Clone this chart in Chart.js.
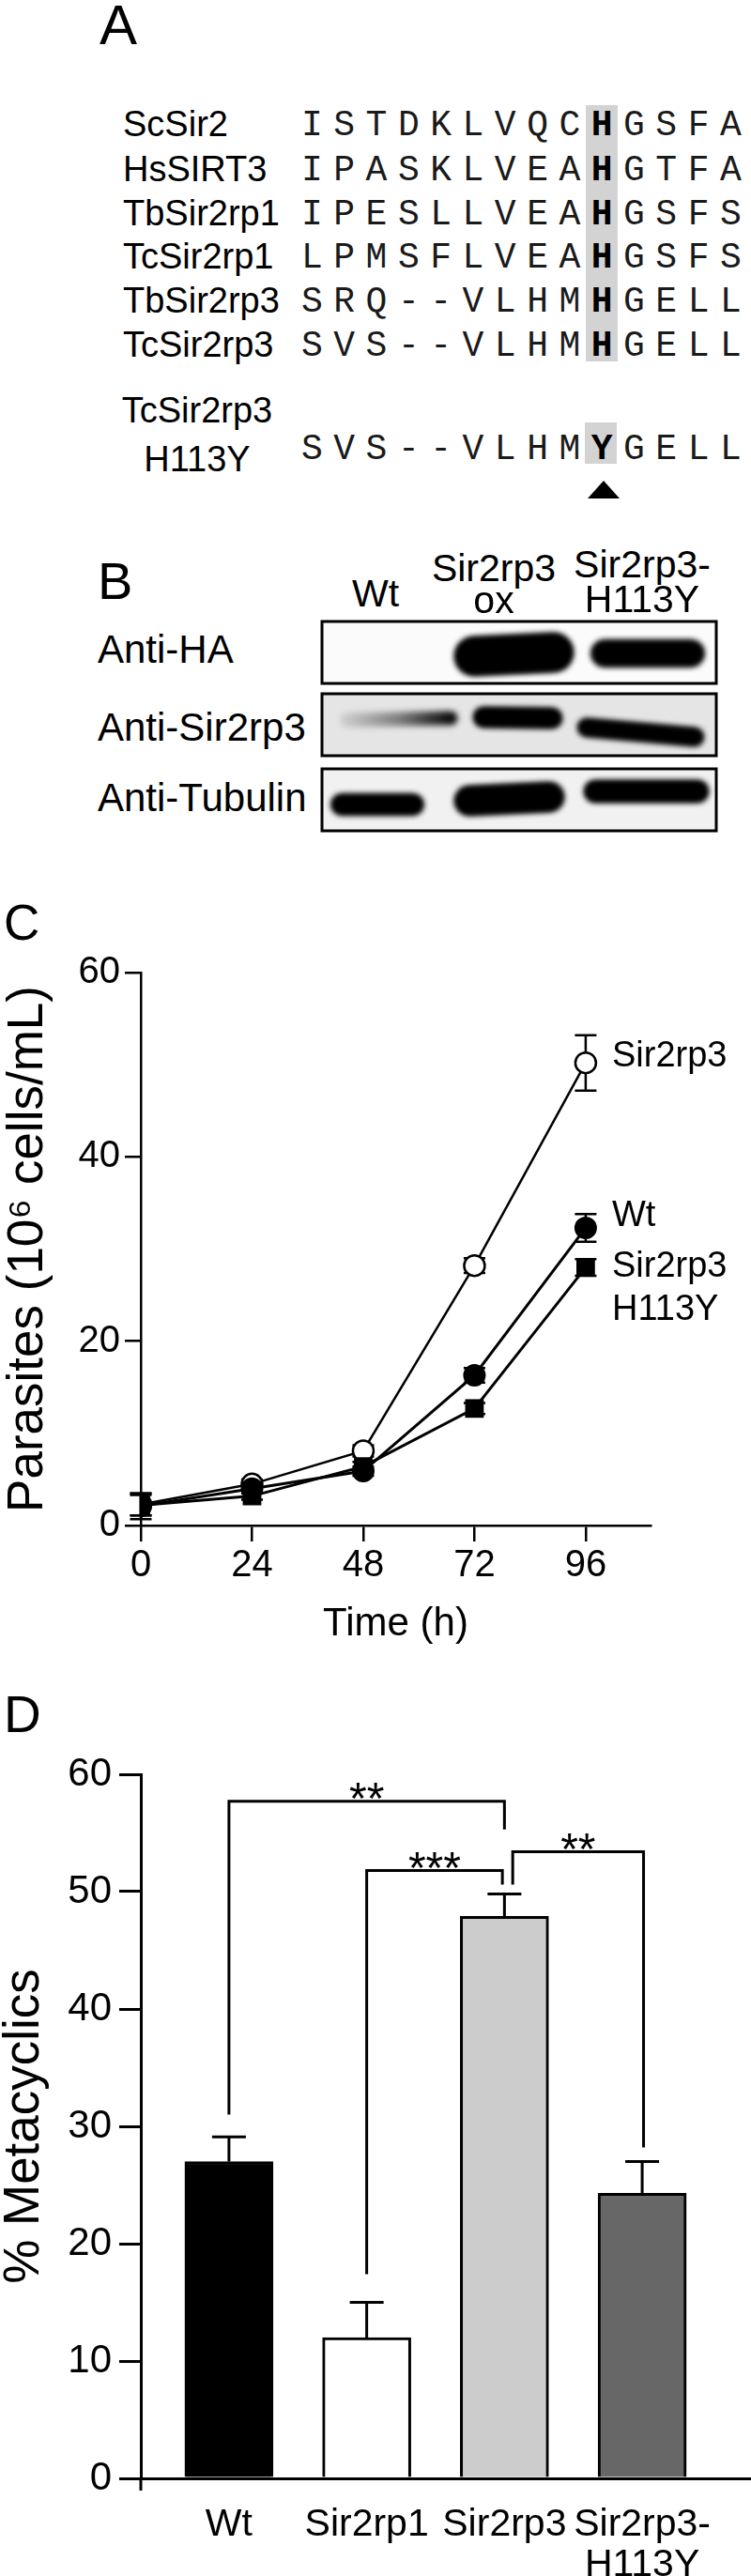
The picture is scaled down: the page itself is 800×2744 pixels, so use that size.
<!DOCTYPE html>
<html>
<head>
<meta charset="utf-8">
<script src="https://cdn.jsdelivr.net/npm/chart.js@4.4.1/dist/chart.umd.min.js"></script>
<style>
body{margin:0;background:#fff;}
#fig{position:relative;width:800px;height:2744px;overflow:hidden;font-family:'Liberation Sans',Arial,sans-serif;color:#000;}
.t{position:absolute;white-space:nowrap;}
.seq{position:absolute;white-space:pre;font-family:'Liberation Mono','Courier New',monospace;font-size:38px;line-height:38px;letter-spacing:11.5px;color:#1a1a1a;}
.seq b{font-weight:bold;color:#000;}
.hl{position:absolute;background:#d3d3d3;}
canvas{position:absolute;}
</style>
</head>
<body>
<div id="fig">
  <div class="hl" style="left:624px;top:112px;width:34px;height:273px;"></div>
  <div class="hl" style="left:623px;top:450px;width:34px;height:44px;"></div>
  <div style="position:absolute;left:626px;top:512px;width:0;height:0;border-left:17px solid transparent;border-right:17px solid transparent;border-bottom:19px solid #000;"></div>
  <canvas id="blot" width="426" height="230" style="left:340px;top:659px;"></canvas>
  <canvas id="growth" width="800" height="820" style="left:0;top:980px;"></canvas>
  <canvas id="meta" width="800" height="904" style="left:0;top:1840px;"></canvas>
</div>
<script>
// panel A: alignment
var alignNames = ["ScSir2", "HsSIRT3", "TbSir2rp1", "TcSir2rp1", "TbSir2rp3", "TcSir2rp3"];
var alignSeqs = ["ISTDKLVQCHGSFA", "IPASKLVEAHGTFA", "IPESLLVEAHGSFS", "LPMSFLVEAHGSFS", "SRQ--VLHMHGELL", "SVS--VLHMHGELL"];
var mutantName = ["TcSir2rp3", "H113Y"];
var mutantSeq = "SVS--VLHMYGELL";
var conservedPos = 9;

// panel B: western blot
var blotRows = ["Anti-HA", "Anti-Sir2rp3", "Anti-Tubulin"];
var blotLanes = [["Wt"], ["Sir2rp3", "ox"], ["Sir2rp3-", "H113Y"]];
var bandSignal = [[0, 1, 0.97], [0.55, 1, 0.97], [1, 1, 1]];

// panel C: growth curves
var hours = [0, 24, 48, 72, 96];
var growthSir2rp3 = [2.3, 4.5, 8.1, 28.2, 50.2];
var errSir2rp3 = [1.2, 0.5, 0.6, 0.8, 3.0];
var growthWt = [2.1, 4.0, 5.9, 16.3, 32.3];
var errWt = [1.4, 0.5, 0.5, 0.8, 1.5];
var growthH113Y = [2.2, 3.2, 6.4, 12.7, 28.0];
var errH113Y = [1.1, 0.4, 0.5, 0.6, 0.9];

// panel D: metacyclogenesis
var strains = ["Wt", "Sir2rp1", "Sir2rp3", ["Sir2rp3-", "H113Y"]];
var metacyclics = [27.0, 12.0, 47.9, 24.3];
var metaErr = [2.1, 3.0, 1.9, 2.7];
var barColors = ["#000000", "#ffffff", "#cccccc", "#676767"];
var brackets = [
  {from: 1, to: 3, yFrom: 31.0, yTop: 57.7, yTo: 55.3, text: "**"},
  {from: 2, to: 2.985, yFrom: 17.4, yTop: 51.8, yTo: 50.6, text: "***"},
  {from: 3.06, to: 4.01, yFrom: 50.6, yTop: 53.4, yTo: 28.2, text: "**"}
];

var fig = document.getElementById('fig');
function txt(s, x, yc, size, align, extra){
  var d = document.createElement('div');
  d.className = 't';
  d.textContent = s;
  d.style.fontSize = size + 'px';
  d.style.lineHeight = size + 'px';
  d.style.top = (yc - size / 2) + 'px';
  d.style.left = x + 'px';
  if (align == 'center') d.style.transform = 'translateX(-50%)';
  if (extra) d.style.cssText += extra;
  fig.appendChild(d);
}

// panel letters
txt("A", 106, 27, 60);
txt("B", 104, 619, 56);
txt("C", 4, 982, 53);
txt("D", 4, 1826, 55);

// alignment rows
var rowY = [132, 180, 227, 273, 320, 367];
alignNames.forEach(function(n, i){ txt(n, 131, rowY[i], 38); });
function seqRow(seq, yc){
  var d = document.createElement('div');
  d.className = 'seq';
  d.style.left = '321px';
  d.style.top = (yc - 16.6) + 'px';
  d.innerHTML = seq.slice(0, conservedPos) + '<b>' + seq[conservedPos] + '</b>' + seq.slice(conservedPos + 1);
  fig.appendChild(d);
}
alignSeqs.forEach(function(s, i){ seqRow(s, rowY[i]); });
txt(mutantName[0], 210, 437, 38, 'center');
txt(mutantName[1], 210, 489, 38, 'center');
seqRow(mutantSeq, 477);

// blot labels
var laneX = [400, 526, 684];
var laneY1 = [[632], [605, 639], [601, 638]];
blotLanes.forEach(function(l, i){
  l.forEach(function(s, k){ txt(s, laneX[i], laneY1[i][k], 41, 'center'); });
});
var rowLabelY = [692, 775, 850];
blotRows.forEach(function(r, i){ txt(r, 104, rowLabelY[i], 42); });

// growth curve labels
txt("Sir2rp3", 652, 1123, 38);
txt("Wt", 652, 1293, 38);
txt("Sir2rp3", 652, 1347, 38);
txt("H113Y", 652, 1393, 38);

// ---- blot drawing
(function(){
  var c = document.getElementById('blot').getContext('2d');
  var boxTop = [3, 80, 160];
  var boxBg = ['#fbfbfb', '#e5e5e5', '#f1f1f1'];
  // band strokes: [x0, y0, x1, y1, thickness] inside each box
  var bands = [
    [null, [165, 37, 250, 33, 40], [304, 34, 396, 34, 27]],
    [[30, 28, 140, 26, 15], [175, 25, 248, 26, 20], [285, 36, 400, 46, 18]],
    [[24, 38, 100, 38, 21], [160, 34, 245, 30, 30], [294, 24, 403, 24, 22]]
  ];
  for (var r = 0; r < 3; r++) {
    c.fillStyle = boxBg[r];
    c.fillRect(3, boxTop[r], 420, 66);
    c.save();
    c.beginPath(); c.rect(3, boxTop[r], 420, 66); c.clip();
    c.filter = 'blur(3px)';
    c.lineCap = 'round';
    for (var l = 0; l < 3; l++) {
      var b = bands[r][l];
      if (!b || !bandSignal[r][l]) continue;
      var s = bandSignal[r][l];
      if (s < 0.9) {
        var g = c.createLinearGradient(b[0], 0, b[2], 0);
        g.addColorStop(0, 'rgba(0,0,0,0.12)');
        g.addColorStop(0.5, 'rgba(0,0,0,0.45)');
        g.addColorStop(1, 'rgba(0,0,0,0.95)');
        c.strokeStyle = g;
      } else {
        c.strokeStyle = 'rgba(0,0,0,' + s + ')';
      }
      c.lineWidth = b[4];
      c.beginPath();
      c.moveTo(b[0], boxTop[r] + b[1]);
      c.lineTo(b[2], boxTop[r] + b[3]);
      c.stroke();
      if (s >= 0.9) c.stroke();
    }
    c.restore();
    c.lineWidth = 3;
    c.strokeStyle = '#000';
    c.strokeRect(3, boxTop[r], 420, 66);
  }
})();

Chart.defaults.font.family = "'Liberation Sans', Arial, sans-serif";
Chart.defaults.color = '#000';

// ---- panel C
var cErrBars = {
  id: 'cErrBars',
  beforeDatasetsDraw: function(chart){
    var ctx = chart.ctx, y = chart.scales.y;
    ctx.save();
    ctx.strokeStyle = '#000';
    ctx.lineWidth = 2.5;
    chart.data.datasets.forEach(function(ds, i){
      chart.getDatasetMeta(i).data.forEach(function(pt, j){
        var v = ds.data[j].y, e = ds.errors[j];
        var top = y.getPixelForValue(v + e), bot = y.getPixelForValue(v - e);
        ctx.beginPath();
        ctx.moveTo(pt.x, top); ctx.lineTo(pt.x, bot);
        ctx.moveTo(pt.x - 11.5, top); ctx.lineTo(pt.x + 11.5, top);
        ctx.moveTo(pt.x - 11.5, bot); ctx.lineTo(pt.x + 11.5, bot);
        ctx.stroke();
      });
    });
    ctx.restore();
  }
};
function pts(vals){ return hours.map(function(h, i){ return {x: h, y: vals[i]}; }); }

new Chart(document.getElementById('growth'), {
  type: 'line',
  data: {
    datasets: [
      {label: 'Sir2rp3 H113Y', data: pts(growthH113Y), errors: errH113Y, borderColor: '#000', borderWidth: 3,
       pointStyle: 'rect', pointRadius: 14, pointBackgroundColor: '#000', pointBorderColor: '#000', pointBorderWidth: 0},
      {label: 'Wt', data: pts(growthWt), errors: errWt, borderColor: '#000', borderWidth: 3,
       pointStyle: 'circle', pointRadius: 12, pointBackgroundColor: '#000', pointBorderColor: '#000', pointBorderWidth: 0},
      {label: 'Sir2rp3', data: pts(growthSir2rp3), errors: errSir2rp3, borderColor: '#000', borderWidth: 2.5,
       pointStyle: 'circle', pointRadius: 11, pointBackgroundColor: '#fff', pointBorderColor: '#000', pointBorderWidth: 2.5}
    ]
  },
  options: {
    responsive: false, animation: false, devicePixelRatio: 1,
    layout: {padding: {top: 56, right: 107, bottom: 0, left: 0}},
    plugins: {legend: {display: false}, tooltip: {enabled: false}},
    elements: {line: {tension: 0}},
    scales: {
      x: {
        type: 'linear', min: 0, max: 110,
        afterBuildTicks: function(s){ s.ticks = hours.map(function(h){ return {value: h}; }); },
        afterFit: function(s){ s.height = 175; },
        grid: {drawOnChartArea: false, tickLength: 17, color: '#000', lineWidth: 2.5},
        border: {color: '#000', width: 2.5},
        ticks: {font: {size: 40}, padding: 2, maxRotation: 0},
        title: {display: true, text: 'Time (h)', font: {size: 42, lineHeight: 1}, padding: {top: 0, bottom: 49}}
      },
      y: {
        min: 0, max: 60,
        ticks: {stepSize: 20, font: {size: 40}, padding: 5},
        afterFit: function(s){ s.width = 150; },
        grid: {drawOnChartArea: false, tickLength: 17, color: '#000', lineWidth: 2.5},
        border: {color: '#000', width: 2.5},
        title: {display: true, text: 'Parasites (10\u2076 cells/mL)', font: {size: 53, lineHeight: 1}, padding: {top: 4, bottom: 0}}
      }
    }
  },
  plugins: [cErrBars]
});

// ---- panel D
var dExtras = {
  id: 'dExtras',
  afterDatasetsDraw: function(chart){
    var ctx = chart.ctx, x = chart.scales.x, y = chart.scales.y, a = chart.chartArea;
    ctx.save();
    ctx.strokeStyle = '#000';
    ctx.lineWidth = 3;
    ctx.lineCap = 'butt';
    // upper error bars
    metacyclics.forEach(function(v, i){
      var px = x.getPixelForValue(i + 1);
      var t = y.getPixelForValue(v + metaErr[i]);
      ctx.beginPath();
      ctx.moveTo(px, y.getPixelForValue(v)); ctx.lineTo(px, t);
      ctx.moveTo(px - 18, t); ctx.lineTo(px + 18, t);
      ctx.stroke();
    });
    // significance brackets
    ctx.lineJoin = 'miter';
    ctx.fillStyle = '#000';
    ctx.font = "48px 'Liberation Sans', Arial, sans-serif";
    ctx.textAlign = 'center';
    ctx.textBaseline = 'alphabetic';
    brackets.forEach(function(b){
      var x0 = x.getPixelForValue(b.from), x1 = x.getPixelForValue(b.to);
      var yt = y.getPixelForValue(b.yTop);
      ctx.beginPath();
      ctx.moveTo(x0, y.getPixelForValue(b.yFrom));
      ctx.lineTo(x0, yt); ctx.lineTo(x1, yt);
      ctx.lineTo(x1, y.getPixelForValue(b.yTo));
      ctx.stroke();
      ctx.fillText(b.text, (x0 + x1) / 2, yt + 13);
    });
    // y axis runs a little below the x axis
    ctx.beginPath();
    ctx.moveTo(a.left, a.bottom); ctx.lineTo(a.left, a.bottom + 13);
    ctx.stroke();
    ctx.restore();
  }
};

new Chart(document.getElementById('meta'), {
  type: 'bar',
  data: {
    datasets: [{
      data: metacyclics.map(function(v, i){ return {x: i + 1, y: v}; }),
      backgroundColor: barColors, borderColor: '#000', borderWidth: 3, barThickness: 94
    }]
  },
  options: {
    responsive: false, animation: false, devicePixelRatio: 1,
    layout: {padding: {top: 50, right: 0, bottom: 0, left: 0}},
    plugins: {legend: {display: false}, tooltip: {enabled: false}},
    scales: {
      x: {
        type: 'linear', min: 0.36, max: 4.79, offset: false,
        afterBuildTicks: function(s){ s.ticks = strains.map(function(n, i){ return {value: i + 1}; }); },
        afterFit: function(s){ s.height = 104; },
        grid: {display: false},
        border: {color: '#000', width: 3},
        ticks: {font: {size: 41, lineHeight: 1.05}, padding: 20, maxRotation: 0, autoSkip: false,
                callback: function(v){ return strains[v - 1]; }}
      },
      y: {
        min: 0, max: 60,
        ticks: {stepSize: 10, font: {size: 42}, padding: 8},
        afterFit: function(s){ s.width = 150; },
        grid: {drawOnChartArea: false, tickLength: 23, color: '#000', lineWidth: 3},
        border: {color: '#000', width: 3},
        title: {display: true, text: '% Metacyclics', font: {size: 53, lineHeight: 1}, padding: {top: 0, bottom: 0}}
      }
    }
  },
  plugins: [dExtras]
});
</script>
</body>
</html>
